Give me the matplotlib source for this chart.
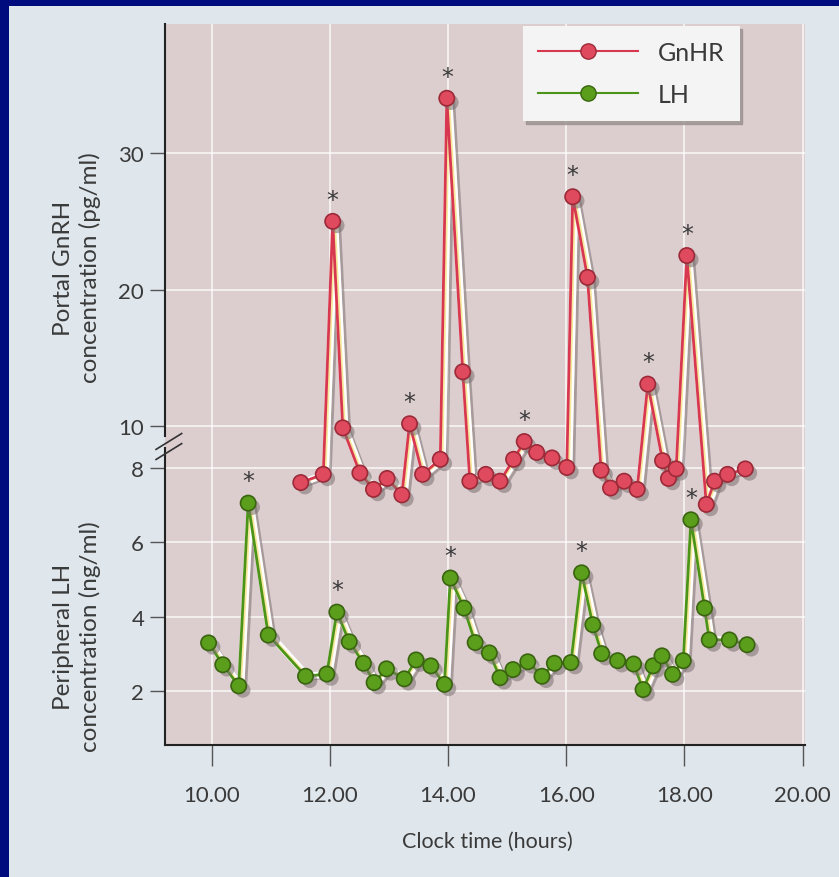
import matplotlib
matplotlib.use('Agg')
import matplotlib.pyplot as plt
import matplotlib.patheffects as pe
from matplotlib.lines import Line2D
from matplotlib.patches import Rectangle

plt.rcParams['font.family'] = ['Lato', 'DejaVu Sans']

# Portal GnRH samples (clock time in hours, pg/ml)
gnrh_time = [11.51, 11.89, 12.05, 12.22, 12.51, 12.74, 12.97, 13.22, 13.35, 13.57,
             13.87, 13.98, 14.25, 14.37, 14.64, 14.88, 15.11, 15.29, 15.50, 15.76,
             16.01, 16.11, 16.36, 16.59, 16.75, 16.98, 17.20, 17.38, 17.63, 17.73,
             17.86, 18.04, 18.37, 18.51, 18.73, 19.03]
gnrh_conc = [5.9, 6.5, 25.0, 9.9, 6.6, 5.4, 6.2, 5.0, 10.2, 6.5,
             7.6, 34.0, 14.0, 6.0, 6.5, 6.0, 7.6, 8.9, 8.1, 7.7,
             7.0, 26.8, 20.9, 6.8, 5.5, 6.0, 5.4, 13.1, 7.5, 6.2,
             6.9, 22.5, 4.3, 6.0, 6.5, 6.9]
gnrh_peaks = [2, 8, 11, 17, 21, 27, 31]

# Peripheral LH samples (clock time in hours, ng/ml)
lh_time = [9.95, 10.19, 10.46, 10.62, 10.96, 11.59, 11.95, 12.12, 12.33, 12.57,
           12.75, 12.96, 13.26, 13.46, 13.71, 13.94, 14.04, 14.27, 14.46, 14.70,
           14.88, 15.10, 15.35, 15.59, 15.80, 16.08, 16.26, 16.45, 16.60, 16.87,
           17.14, 17.30, 17.47, 17.62, 17.80, 17.98, 18.11, 18.34, 18.42, 18.76,
           19.06]
lh_conc = [3.29, 2.70, 2.13, 7.06, 3.50, 2.39, 2.45, 4.12, 3.32, 2.74,
           2.22, 2.59, 2.32, 2.83, 2.67, 2.17, 5.04, 4.23, 3.30, 3.02,
           2.35, 2.57, 2.78, 2.39, 2.74, 2.76, 5.18, 3.78, 3.00, 2.81,
           2.72, 2.03, 2.67, 2.94, 2.44, 2.81, 6.61, 4.23, 3.37, 3.37,
           3.24]
lh_peaks = [3, 7, 16, 26, 36]

x_ticks = [10, 12, 14, 16, 18, 20]
x_labels = ['10.00', '12.00', '14.00', '16.00', '18.00', '20.00']

navy = '#000b7d'
page = '#dfe6ec'
pink = '#dccdcf'
txt = '#3a3a3a'
red = '#d8384f'
red_face = '#e04a5e'
red_edge = '#9c2a38'
green = '#4c9418'
green_face = '#5a9e1c'
green_edge = '#3a6410'

fig = plt.figure(figsize=(8.39, 8.78), dpi=100, facecolor=navy)
fig.patches.append(Rectangle((9 / 839, 0), 1, 1 - 7 / 878, transform=fig.transFigure,
                             facecolor=page, edgecolor='none', zorder=-10))

ax = fig.add_axes([165 / 839, 1 - 746 / 878, 640 / 839, 721 / 878])
ax.set_facecolor(pink)
ax.set_xlim(9.213, 20.04)
ax.set_ylim(0.535, 19.985)
ax2 = ax.twinx()
ax2.set_ylim(-13.29, 39.43)

for a in (ax, ax2):
    a.spines['top'].set_visible(False)
    a.spines['right'].set_visible(False)
    a.spines['left'].set_color('#222222')
    a.spines['left'].set_linewidth(1.5)
    a.tick_params(axis='y', direction='out', length=11, width=1, colors='#555555',
                  labelcolor=txt, labelsize=16, pad=4)
ax2.spines['bottom'].set_visible(False)
ax.spines['bottom'].set_color('#222222')
ax.spines['bottom'].set_linewidth(1.5)
ax2.yaxis.tick_left()
ax.spines['left'].set_bounds(0.535, 8.55)
ax2.spines['left'].set_bounds(9.3, 39.43)

ax.set_yticks([2, 4, 6, 8])
ax2.set_yticks([10, 20, 30])
ax.set_xticks(x_ticks)
ax.set_xticklabels(x_labels)
ax.tick_params(axis='x', direction='out', length=15, width=1, colors='#555555',
               labelcolor=txt, labelsize=16, pad=14)

ax.grid(True, color='white', linewidth=1.2, alpha=0.8)
ax2.grid(True, axis='y', color='white', linewidth=1.2, alpha=0.8)

# axis break marks
for dy in (0.0, -0.014):
    ax.plot([-0.014, 0.026], [0.41 + dy, 0.432 + dy], transform=ax.transAxes,
            color='#333333', lw=1.2, clip_on=False, zorder=5)

line_fx = [pe.SimpleLineShadow(offset=(5, -2), shadow_color='#7a7070', alpha=0.55),
           pe.Stroke(offset=(1.5, 0), linewidth=5, foreground='white'),
           pe.Stroke(offset=(1.5, 0), linewidth=1.5, foreground='#f6e79a'),
           pe.Normal()]
mark_fx = [pe.SimplePatchShadow(offset=(3, -3), shadow_rgbFace='#7a7070', alpha=0.55), pe.Normal()]

ax.plot(lh_time, lh_conc, color=green, lw=2, path_effects=line_fx, zorder=3)
ax.plot(lh_time, lh_conc, 'o', ms=11, mfc=green_face, mec=green_edge, mew=1.2,
        path_effects=mark_fx, zorder=4)
ax2.plot(gnrh_time, gnrh_conc, color=red, lw=2, path_effects=line_fx, zorder=3)
ax2.plot(gnrh_time, gnrh_conc, 'o', ms=11, mfc=red_face, mec=red_edge, mew=1.2,
         path_effects=mark_fx, zorder=4)

for i in gnrh_peaks:
    ax2.annotate('*', (gnrh_time[i], gnrh_conc[i]), xytext=(0, 7), textcoords='offset points',
                 ha='center', va='bottom', fontsize=17, color=txt, family='DejaVu Sans')
for i in lh_peaks:
    ax.annotate('*', (lh_time[i], lh_conc[i]), xytext=(0, 7), textcoords='offset points',
                ha='center', va='bottom', fontsize=17, color=txt, family='DejaVu Sans')

handles = [Line2D([], [], color=red, lw=1.5, marker='o', ms=11, mfc=red_face, mec=red_edge),
           Line2D([], [], color=green, lw=1.5, marker='o', ms=11, mfc=green_face, mec=green_edge)]
leg = ax2.legend(handles, ['GnHR', 'LH'], loc='upper right', bbox_to_anchor=(0.898, 0.997),
                 borderaxespad=0, frameon=True, fancybox=False, shadow={'color': '#9a9090', 'alpha': 0.8},
                 facecolor='#f3f4f3', edgecolor='none', framealpha=1, fontsize=18,
                 handlelength=4.0, handletextpad=0.8, labelspacing=0.75, borderpad=0.6)
for t in leg.get_texts():
    t.set_color(txt)

fig.text(77 / 839, 1 - 268 / 878, 'Portal GnRH\nconcentration (pg/ml)', rotation=90,
         ha='center', va='center', multialignment='center', fontsize=17.5, color=txt,
         linespacing=1.25)
fig.text(77 / 839, 1 - 637 / 878, 'Peripheral LH\nconcentration (ng/ml)', rotation=90,
         ha='center', va='center', multialignment='center', fontsize=17.5, color=txt,
         linespacing=1.25)
fig.text(487 / 839, 1 - 842 / 878, 'Clock time (hours)', ha='center', va='center',
         fontsize=15.5, color=txt)

fig.savefig('out.png', dpi=100, facecolor=fig.get_facecolor())
